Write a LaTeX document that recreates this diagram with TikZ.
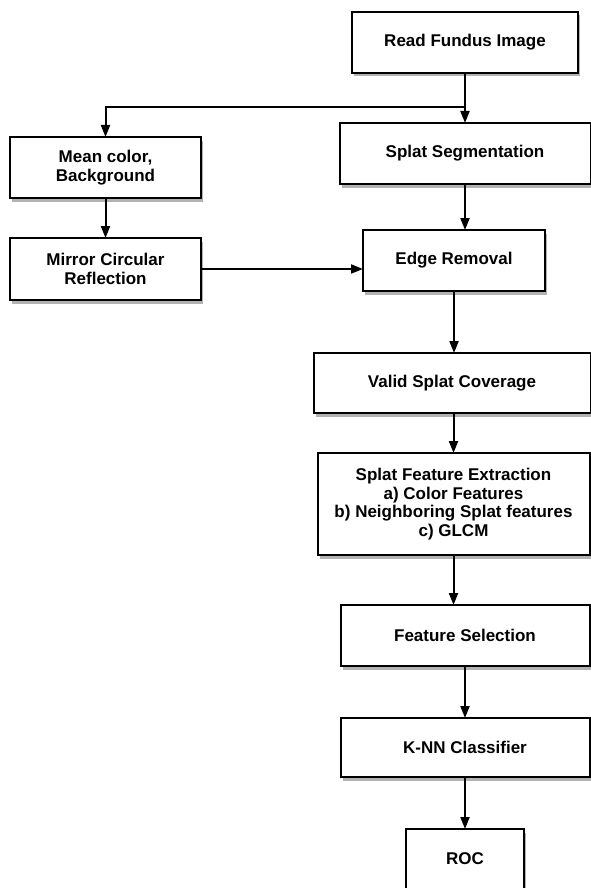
\documentclass[tikz,border=0pt]{standalone}
\usepackage{fontspec}
\setmainfont{Liberation Sans}
\usepackage{tikz}
\usetikzlibrary{positioning}
\usetikzlibrary{arrows.meta,shadows}

\tikzset{
    stage/.style={draw, line width=2pt, fill=white, align=center, outer sep=0pt,
        font=\fontsize{17}{18.8}\selectfont\bfseries, inner sep=2pt,
        drop shadow={shadow xshift=2pt, shadow yshift=-3.5pt, fill=black!55, opacity=0.55}},
    flow/.style={-{Triangle[length=12pt,width=9pt]}, line width=2pt}
}

\begin{document}
\begin{tikzpicture}
    \useasboundingbox (0,0) rectangle (590pt,-888pt);

    \node(read) [stage, minimum width=226pt, minimum height=61pt] at (465pt,-42.5pt) {Read Fundus Image};
    \node(seg) [stage, minimum width=251pt, minimum height=61pt, below=50pt of read] {Splat Segmentation};
    \node(edge) [stage, minimum width=182pt, minimum height=61pt, below=46pt of seg, xshift=-11pt] {Edge Removal};
    \node(valid) [stage, minimum width=277pt, minimum height=60pt, below=62pt of edge, xshift=-2pt] {Valid Splat Coverage};
    \node(fext) [stage, minimum width=272pt, minimum height=102pt, below=40pt of valid, xshift=1.5pt] {Splat Feature Extraction\\a) Color Features\\b) Neighboring Splat features\\c) GLCM};
    \node(fsel) [stage, minimum width=249pt, minimum height=61pt, below=50pt of fext, xshift=11.5pt] {Feature Selection};
    \node(knn) [stage, minimum width=249pt, minimum height=59pt, below=52pt of fsel] {K-NN Classifier};
    \node(roc) [stage, minimum width=118pt, minimum height=60pt, below=52pt of knn] {ROC};

    \node(mean) [stage, minimum width=191pt, minimum height=61pt] at (105.5pt,-167.5pt) {Mean color,\\Background};
    \node(mirror) [stage, minimum width=191pt, minimum height=62pt, below=40pt of mean] {Mirror Circular\\Reflection};

    \coordinate(split) at (read.south |- 0,-107pt);

    \draw[flow](read) -- (seg);
    \draw[flow](split) -| (mean);
    \draw[flow](mean) -- (mirror);
    \draw[flow](mirror) -- (mirror -| edge.west);
    \draw[flow](seg.south) -- (seg.south |- edge.north);
    \draw[flow](edge.south) -- (edge.south |- valid.north);
    \draw[flow](fext.north |- valid.south) -- (fext.north);
    \draw[flow](fext.south) -- (fext.south |- fsel.north);
    \draw[flow](fsel) -- (knn);
    \draw[flow](knn) -- (roc);
  \end{tikzpicture}
\end{document}
